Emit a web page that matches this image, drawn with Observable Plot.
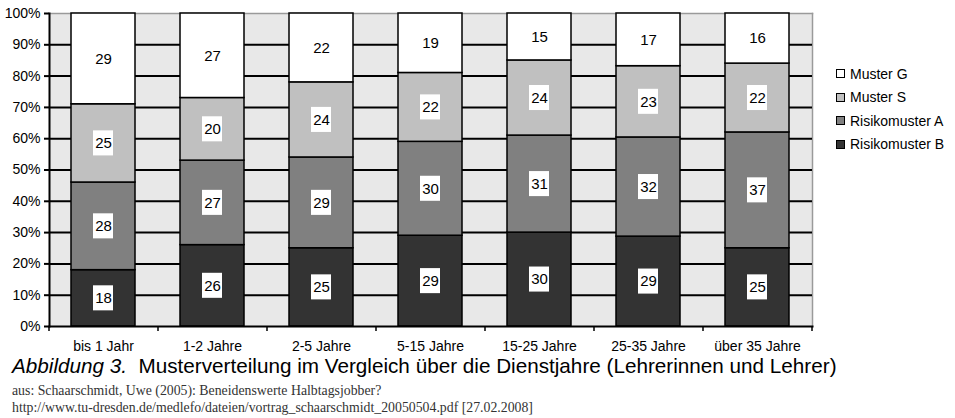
<!DOCTYPE html>
<html><head><meta charset="utf-8">
<script src="https://cdn.jsdelivr.net/npm/d3@7"></script>
<script src="https://cdn.jsdelivr.net/npm/@observablehq/plot@0.6"></script>
<style>
body{margin:0;background:#fff;font-family:"Liberation Sans",Arial,sans-serif;}
#wrap{position:relative;width:955px;height:418px;overflow:hidden}
#chart{position:absolute;left:0;top:0}
#legend{position:absolute;left:836px;top:62px;font-size:14px;color:#000}
.item{display:flex;align-items:center;height:23.5px}
.sw{width:7px;height:7px;border:1.5px solid #000;margin-right:5px}
#cap{position:absolute;left:12px;top:354px;font-size:20.7px;white-space:nowrap;color:#000}
.src{position:absolute;left:12px;font-family:"Liberation Serif","Times New Roman",serif;font-size:13.8px;color:#333;white-space:nowrap}
</style></head>
<body><div id="wrap"><div id="chart"></div><div id="legend"></div>
<div id="cap"><i>Abbildung 3.</i>&nbsp; Musterverteilung im Vergleich über die Dienstjahre (Lehrerinnen und Lehrer)</div>
<div class="src" style="top:383px">aus: Schaarschmidt, Uwe (2005): Beneidenswerte Halbtagsjobber?</div>
<div class="src" style="top:400px">http://www.tu-dresden.de/medlefo/dateien/vortrag_schaarschmidt_20050504.pdf [27.02.2008]</div>
</div>
<script>
const cats = ["bis 1 Jahr","1-2 Jahre","2-5 Jahre","5-15 Jahre","15-25 Jahre","25-35 Jahre","über 35 Jahre"];
const seriesNames = ["Risikomuster B","Risikomuster A","Muster S","Muster G"];
const colors = ["#333333","#808080","#c0c0c0","#ffffff"];
const risikoB = [18,26,25,29,30,29,25];
const risikoA = [28,27,29,30,31,32,37];
const musterS = [25,20,24,22,24,23,22];
const musterG = [29,27,22,19,15,17,16];
const yTicks = [0,10,20,30,40,50,60,70,80,90,100];

const rows = [];
cats.forEach((c,i)=>{
  const vals=[risikoB[i],risikoA[i],musterS[i],musterG[i]];
  const tot=d3.sum(vals); let acc=0;
  vals.forEach((v,j)=>{
    const y1=acc/tot*100; acc+=v; const y2=acc/tot*100;
    rows.push({cat:c, series:seriesNames[j], value:v, y1, y2, mid:(y1+y2)/2});
  });
});

const W=955, mL=49, mR=143;
const step=(W-mL-mR)/cats.length;

const chart = Plot.plot({
  width:W, height:356, marginLeft:mL, marginRight:mR, marginTop:13, marginBottom:30,
  style:{fontFamily:"'Liberation Sans', Arial, sans-serif", fontSize:"14px", color:"#000", background:"transparent", overflow:"visible"},
  x:{domain:cats, paddingInner:0.41, paddingOuter:0.205, label:null},
  y:{domain:[0,100], label:null},
  color:{domain:seriesNames, range:colors},
  marks:[
    Plot.frame({fill:"#e8e8e8", stroke:null}),
    Plot.frame({anchor:"top", stroke:"#9a9a9a", strokeWidth:1.5}),
    Plot.frame({anchor:"right", stroke:"#9a9a9a", strokeWidth:1.5}),
    Plot.ruleY(yTicks.filter(d=>d>0&&d<100), {stroke:"#000", strokeWidth:2}),
    Plot.barY(rows,{x:"cat", y1:"y1", y2:"y2", fill:"series", stroke:"#000", strokeWidth:1.5}),
    Plot.barY(rows,{x:"cat", y1:d=>d.mid-4, y2:d=>d.mid+4, fill:"#fff", insetLeft:22, insetRight:22}),
    Plot.text(rows,{x:"cat", y:"mid", text:"value", fontSize:15, fill:"#000"}),
    Plot.frame({anchor:"bottom", stroke:"#000", strokeWidth:2}),
    Plot.frame({anchor:"left", stroke:"#000", strokeWidth:2}),
    Plot.axisY(yTicks,{tickSize:5, tickPadding:4, tickFormat:d=>d+"%", strokeWidth:2, fontSize:14}),
    Plot.axisX({tickSize:0, tickPadding:15, fontSize:14}),
    Plot.ruleX(cats,{x:d=>d, y1:0, y2:-1.6, dx:-step/2, stroke:"#000", strokeWidth:1.5}),
    Plot.ruleX([cats[cats.length-1]],{x:d=>d, y1:0, y2:-1.6, dx:step/2, stroke:"#000", strokeWidth:1.5})
  ]
});
document.getElementById("chart").appendChild(chart);

const leg = document.getElementById("legend");
[3,2,1,0].forEach(j=>{
  const it=document.createElement("div"); it.className="item";
  it.innerHTML=`<span class="sw" style="background:${colors[j]}"></span><span>${seriesNames[j]}</span>`;
  leg.appendChild(it);
});
</script></body></html>
